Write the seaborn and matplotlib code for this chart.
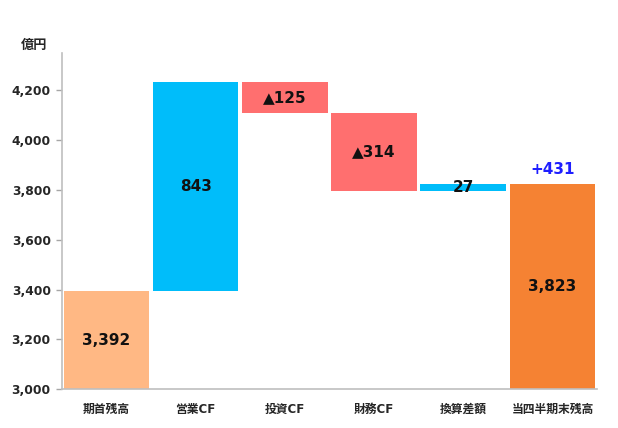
import numpy as np
import pandas as pd
import matplotlib
matplotlib.use("Agg")
import matplotlib.pyplot as plt
import seaborn as sns

# data (億円)
categories = ["期首残高", "営業CF", "投資CF", "財務CF", "換算差額", "当四半期末残高"]
start_balance = 3392
changes = [843, -125, -314, 27]
end_balance = 3823
bar_colors = ["#FFB884", "#00BDFA", "#FF6F6F", "#FF6F6F", "#00BDFA", "#F58233"]

# build the waterfall table
bottoms = [0]
lengths = [start_balance]
running = start_balance
for c in changes:
    bottoms.append(min(running, running + c))
    lengths.append(abs(c))
    running += c
bottoms.append(0)
lengths.append(end_balance)

labels = [f"{start_balance:,}"]
for c in changes:
    labels.append(f"▲{abs(c):,}" if c < 0 else f"{c:,}")
labels.append(f"{end_balance:,}")

df = pd.DataFrame({"category": categories, "length": lengths, "bottom": bottoms})

sns.set_style("white")
plt.rcParams["font.family"] = ["DejaVu Sans", "Noto Sans CJK JP"]

fig = plt.figure(figsize=(6.18, 4.28), dpi=100)
ax = fig.add_axes([0.100, 0.091, 0.866, 0.785])

sns.barplot(data=df, x="category", y="length", bottom=df["bottom"].values,
            facecolor=bar_colors, color="#cccccc", width=0.96,
            errorbar=None, linewidth=0, ax=ax)

ax.set_ylim(3000, 4350)
ax.set_xlim(-0.5, len(categories) - 0.5)
ax.set_yticks(np.arange(3000, 4201, 200))
ax.set_yticklabels([f"{v:,}" for v in range(3000, 4201, 200)],
                   fontsize=8.8, fontweight="bold")
ax.set_xticks(range(len(categories)))
ax.set_xticklabels(categories, fontsize=8.5, fontweight="bold")
ax.set_xticks(np.arange(-0.5, len(categories), 1), minor=True)
ax.tick_params(axis="x", which="major", length=0, pad=10)
ax.tick_params(axis="x", which="minor", length=4, color="#A6A6A6", width=1)
ax.tick_params(axis="y", length=4, color="#A6A6A6", width=1, direction="out", left=True, pad=4)
ax.set_xlabel("")
ax.set_ylabel("")

for s in ["top", "right"]:
    ax.spines[s].set_visible(False)
for s in ["left", "bottom"]:
    ax.spines[s].set_color("#BFBFBF")
    ax.spines[s].set_linewidth(1.2)

# value labels in the middle of each visible bar
for i, (b, l, t) in enumerate(zip(bottoms, lengths, labels)):
    lo = max(b, 3000)
    ax.text(i, (lo + b + l) / 2, t, ha="center", va="center",
            fontsize=11, fontweight="bold", color="#111111")

ax.text(len(categories) - 1, end_balance + 30, f"+{end_balance - start_balance:,}",
        ha="center", va="bottom", fontsize=11, fontweight="bold", color="#1F1FFF")

fig.text(0.034, 0.895, "億円", fontsize=9.5, fontweight="bold", va="center",
         family=["Noto Sans CJK JP", "DejaVu Sans"])

fig.savefig("out.png", dpi=100)
